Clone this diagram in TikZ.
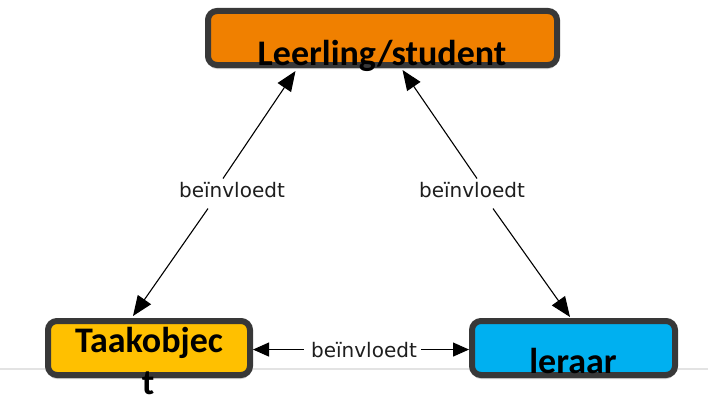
\documentclass[tikz,border=0pt]{standalone}
\usepackage{fontspec}
\usetikzlibrary{arrows.meta,calc,shadows}
\newfontfamily\boxfont{Carlito}[BoldFont={Carlito Bold}]
\newfontfamily\labfont{DejaVu Sans}
\definecolor{borderc}{RGB}{56,56,56}
\definecolor{orangec}{RGB}{240,128,0}
\definecolor{goldc}{RGB}{255,192,0}
\definecolor{bluec}{RGB}{0,176,240}
\definecolor{labc}{RGB}{30,30,30}
\tikzset{
  box/.style={draw=borderc, line width=6pt, rounded corners=9pt, inner sep=0pt,
    minimum height=54pt,
    drop shadow={shadow xshift=0pt, shadow yshift=-4pt, opacity=0.18, fill=black}},
  boxtext/.style={font=\boxfont\fontsize{36}{42}\selectfont\bfseries, text=black, inner sep=0pt},
  lab/.style={font=\labfont\fontsize{20}{24}\selectfont, text=labc, inner sep=0pt},
  arr/.style={line width=1.1pt, draw=black, -{Triangle[length=20pt,width=16pt]}},
  harr/.style={line width=1.1pt, draw=black, -{Triangle[length=16pt,width=14pt]}},
}
\begin{document}
\begin{tikzpicture}[x=1pt,y=-1pt]
\useasboundingbox (0,0) rectangle (708,396);
\fill[white] (0,0) rectangle (708,396);
% faint baseline rule
\draw[gray!22, line width=1.4pt] (0,369) -- (708,369);
% boxes
\node[box, fill=orangec, minimum width=349pt] (top) at (382.5,38) {};
\node[box, fill=goldc, minimum width=202pt] (taak) at (149,348) {};
\node[box, fill=bluec, minimum width=203pt] (ler) at (573.5,348) {};
% box texts
\node[boxtext, anchor=base] (ttop) at (382,65) {Leerling/student};
\node[boxtext, anchor=base] (ttaak) at (149,352) {Taakobjec};
\node[boxtext, anchor=base] (ttaak2) at (148,394) {t};
\node[boxtext, anchor=base] (tler) at (573,373) {leraar};
% labels
\node[lab, anchor=base] (lab1) at (232,197) {beïnvloedt};
\node[lab, anchor=base] (lab2) at (472,197) {beïnvloedt};
\node[lab, anchor=base] (lab3) at (364,357) {beïnvloedt};
% connectors
\draw[arr] ($(lab1)+(-9,-11)$) -- ($(top.south)+(-87,3)$);
\draw[arr] ($(lab1)+(-24,19)$) -- ($(taak.north)+(-16,-2)$);
\draw[arr] ($(lab2)+(5,-11)$) -- ($(top.south)+(20,2)$);
\draw[arr] ($(lab2)+(21,19)$) -- ($(ler.north)+(-3.5,-1)$);
\draw[harr] ($(lab3.west)+(-7,0)$) -- (taak.east |- lab3.west);
\draw[harr] ($(lab3.east)+(4,0)$) -- (ler.west |- lab3.east);
\end{tikzpicture}
\end{document}
